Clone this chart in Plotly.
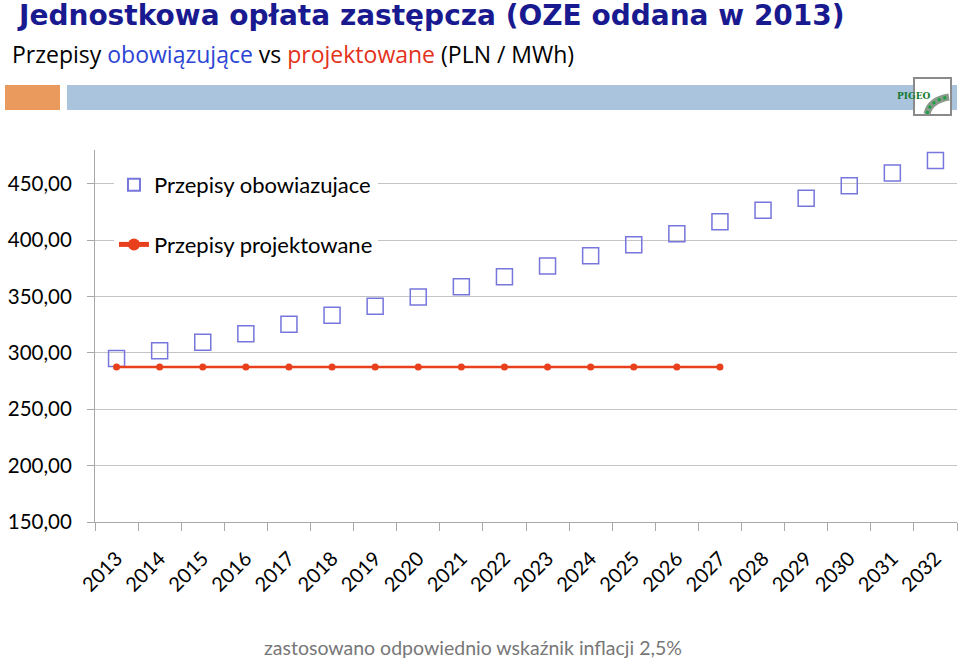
import plotly.graph_objects as go

years = [str(y) for y in range(2013, 2033)]
obowiazujace = [295, 302, 309.5, 317, 325.5, 333.5, 341.5, 349.7, 358.6, 367.5, 377.2, 386.1,
                395.9, 405.6, 416.3, 426.6, 437.3, 448.2, 459.5, 470.7]
projekt_years = [str(y) for y in range(2013, 2028)]
projektowane = [287.5] * 15
y_ticks = [150, 200, 250, 300, 350, 400, 450]
y_tick_labels = ["150,00", "200,00", "250,00", "300,00", "350,00", "400,00", "450,00"]

W, H = 960, 660
PL, PR, PT, PB = 95, 957, 150, 522  # plot area in window pixels


def px(x):
    return (x - PL) / (PR - PL)


def py(y):
    return (PB - y) / (PB - PT)


fig = go.Figure()
fig.add_trace(go.Scatter(
    x=years, y=obowiazujace, mode="markers", name="Przepisy obowiazujace",
    legendgroup="a",
    marker=dict(symbol="square-open", size=16, color="#7676dc", line=dict(width=1.5, color="#7676dc")),
))
fig.add_trace(go.Scatter(
    x=projekt_years, y=projektowane, mode="lines+markers", name="Przepisy projektowane",
    legendgroup="b",
    line=dict(color="#e8401c", width=2.5),
    marker=dict(symbol="circle", size=7, color="#e8401c"),
))

fig.update_layout(
    width=W, height=H,
    paper_bgcolor="white", plot_bgcolor="white",
    margin=dict(l=PL, r=W - PR, t=PT, b=H - PB, autoexpand=False),
    font=dict(family="Lato, Open Sans, sans-serif", color="black"),
    showlegend=True,
    legend=dict(
        x=0.022, y=py(164), xanchor="left", yanchor="top",
        bgcolor="white", font=dict(size=22, color="black"),
        traceorder="grouped", tracegroupgap=28,
        itemsizing="constant",
    ),
    xaxis=dict(
        type="category", categoryorder="array", categoryarray=years,
        range=[-0.5, 19.5], automargin=False,
        tickangle=-45, tickfont=dict(size=20),
        ticklabelstandoff=16,
        showgrid=False, showline=True, linecolor="#a8a8a8", linewidth=1,
        ticks="outside", ticklen=8, tickcolor="#a8a8a8", tickson="boundaries",
    ),
    yaxis=dict(
        range=[150, 480], tickvals=y_ticks, ticktext=y_tick_labels,
        automargin=False,
        tickfont=dict(size=20.5),
        ticklabelstandoff=11,
        showgrid=True, gridcolor="#c4c4c4", gridwidth=1,
        showline=True, linecolor="#a8a8a8", linewidth=1,
        ticks="outside", ticklen=7, tickcolor="#a8a8a8",
        zeroline=False,
    ),
)

# Header decorations
fig.add_shape(type="rect", xref="paper", yref="paper", x0=px(5), x1=px(60),
              y0=py(110), y1=py(85), fillcolor="#ea9a5c", line=dict(width=0), layer="above")
fig.add_shape(type="rect", xref="paper", yref="paper", x0=px(67), x1=px(957),
              y0=py(110), y1=py(85), fillcolor="#a9c4dc", line=dict(width=0), layer="above")
fig.add_shape(type="rect", xref="paper", yref="paper", x0=px(914), x1=px(951),
              y0=py(115), y1=py(78), fillcolor="white", line=dict(width=2, color="#8a8a8a"), layer="above")
fig.add_annotation(xref="paper", yref="paper", x=px(932.5), y=py(89), text="<b>PIGEO</b>",
                   showarrow=False, font=dict(size=9, color="#157a30", family="DejaVu Serif"))
fig.add_shape(type="path", xref="paper", yref="paper",
              path="M {} {} Q {} {} {} {}".format(px(927), py(114), px(930), py(100), px(949), py(97)),
              line=dict(color="#8a9a8a", width=7), layer="above")
fig.add_shape(type="path", xref="paper", yref="paper",
              path="M {} {} Q {} {} {} {}".format(px(927), py(114), px(930), py(100), px(949), py(97)),
              line=dict(color="#1ea046", width=3, dash="dot"), layer="above")

fig.add_annotation(xref="paper", yref="paper", x=px(15), y=py(-3), xanchor="left", yanchor="top",
                   text="<b>Jednostkowa opłata zastępcza (OZE oddana w 2013)</b>", showarrow=False,
                   font=dict(size=28, color="#1a1a90", family="DejaVu Sans, sans-serif"))
fig.add_annotation(xref="paper", yref="paper", x=px(10), y=py(36), xanchor="left", yanchor="top",
                   text="Przepisy <span style='color:#2c44d4'>obowiązujące</span> vs "
                        "<span style='color:#e3321c'>projektowane</span> (PLN / MWh)",
                   showarrow=False, font=dict(size=23, color="black", family="Open Sans, sans-serif"))
fig.add_annotation(xref="paper", yref="paper", x=px(473), y=py(647), xanchor="center", yanchor="middle",
                   text="zastosowano odpowiednio wskaźnik inflacji 2,5%", showarrow=False,
                   font=dict(size=19.5, color="#777777", family="Lato, sans-serif"))

fig.write_html(
    "out.html",
    config={"displayModeBar": False},
    post_script="document.body.style.margin='0';document.body.style.overflow='hidden';",
)
